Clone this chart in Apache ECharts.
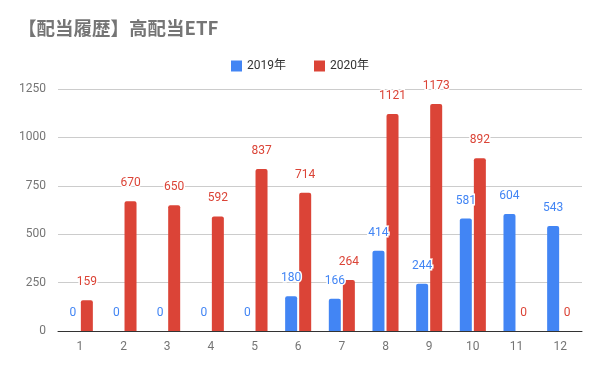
<!DOCTYPE html>
<html><head><meta charset="utf-8">
<script src="https://cdn.jsdelivr.net/npm/echarts@6/dist/echarts.min.js"></script>
<style>html,body{margin:0;padding:0;background:#fff}#c{width:600px;height:371px}</style>
</head><body><div id="c"></div>
<script>
const categories = ['1','2','3','4','5','6','7','8','9','10','11','12'];
const values2019 = [0,0,0,0,0,180,166,414,244,581,604,543];
const values2020 = [159,670,650,592,837,714,264,1121,1173,892,0,0];
const seriesNames = ['2019年','2020年'];
const yTicks = {min:0, max:1250, interval:250};

const chart = echarts.init(document.getElementById('c'));
const font = 'Roboto, "Noto Sans CJK JP", sans-serif';
function lbl(color){
  return {show:true, position:'top', distance:12, color:color, fontSize:12, fontFamily:font,
    textBorderColor:'#fff', textBorderWidth:3};
}
chart.setOption({
  animation:false,
  title:{text:'【配当履歴】高配当ETF', left:13, top:14,
    textStyle:{fontSize:18.5, fontWeight:'bold', color:'#757575', fontFamily:'"Noto Sans CJK JP", sans-serif'}},
  legend:{top:55, left:'center', itemWidth:11, itemHeight:11, itemGap:28, icon:'rect',
    textStyle:{color:'#333', fontSize:12, fontFamily:font}},
  grid:{left:58, right:18, top:89, bottom:40},
  xAxis:{type:'category', data:categories,
    axisLine:{lineStyle:{color:'#333'}}, axisTick:{show:false},
    axisLabel:{color:'#757575', fontSize:12, fontFamily:font, margin:10}},
  yAxis:{type:'value', min:yTicks.min, max:yTicks.max, interval:yTicks.interval,
    axisLine:{show:false}, axisTick:{show:false},
    splitLine:{lineStyle:{color:'#ccc'}},
    axisLabel:{color:'#757575', fontSize:12, fontFamily:font, margin:12, formatter:v=>String(v)}},
  series:[
    {name:seriesNames[0], type:'bar', data:values2019, barWidth:12, barGap:'17%',
      itemStyle:{color:'#4285f4', borderRadius:[2,2,0,0]}, label:lbl('#4285f4')},
    {name:seriesNames[1], type:'bar', data:values2020, barWidth:12, barGap:'17%',
      itemStyle:{color:'#db4437', borderRadius:[2,2,0,0]}, label:lbl('#db4437')}
  ]
});
</script></body></html>
